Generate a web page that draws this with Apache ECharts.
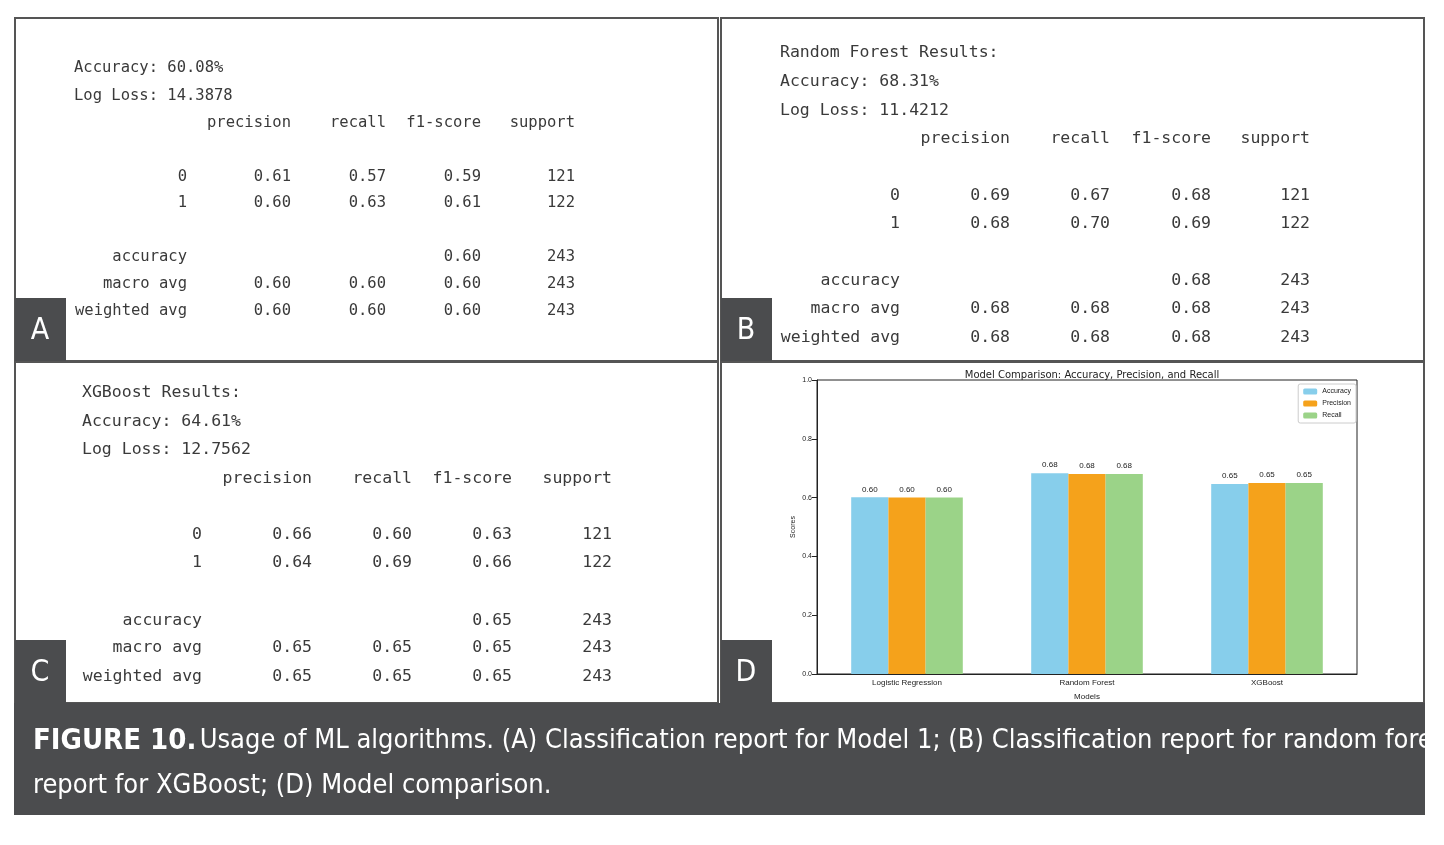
<!DOCTYPE html>
<html><head><meta charset="utf-8">
<script src="https://cdn.jsdelivr.net/npm/echarts@6/dist/echarts.min.js"></script>
<style>html,body{margin:0;padding:0;background:#fff}#main{width:1444px;height:845px}</style>
</head><body><div id="main"></div>
<script>
// model comparison data (panel D)
var models = ["Logistic Regression", "Random Forest", "XGBoost"];
var accuracy = [0.6008, 0.6831, 0.6461];
var precision = [0.60, 0.68, 0.65];
var recall = [0.60, 0.68, 0.65];
var yTicks = [0, 0.2, 0.4, 0.6, 0.8, 1.0];

// classification reports (panels A, B, C)
var headA = ["Accuracy: 60.08%", "Log Loss: 14.3878"];
var headB = ["Random Forest Results:", "Accuracy: 68.31%", "Log Loss: 11.4212"];
var headC = ["XGBoost Results:", "Accuracy: 64.61%", "Log Loss: 12.7562"];
var colNames = ["precision", "recall", "f1-score", "support"];
var rowsA = [["0","0.61","0.57","0.59","121"],["1","0.60","0.63","0.61","122"],["accuracy","","","0.60","243"],["macro avg","0.60","0.60","0.60","243"],["weighted avg","0.60","0.60","0.60","243"]];
var rowsB = [["0","0.69","0.67","0.68","121"],["1","0.68","0.70","0.69","122"],["accuracy","","","0.68","243"],["macro avg","0.68","0.68","0.68","243"],["weighted avg","0.68","0.68","0.68","243"]];
var rowsC = [["0","0.66","0.60","0.63","121"],["1","0.64","0.69","0.66","122"],["accuracy","","","0.65","243"],["macro avg","0.65","0.65","0.65","243"],["weighted avg","0.65","0.65","0.65","243"]];

var mono = "DejaVu Sans Mono";
var txtColor = "#3a3a3a";
var dark = "#4b4c4e";
var g = [];

function txt(x, y, s, size, align){
	g.push({type:"text", x:x, y:y, style:{text:s, font:size+"px '"+mono+"'", fill:txtColor, textAlign:align||"left", textVerticalAlign:"middle"}});
}

// one report: left x of header, header ys, column right edges, row ys
function report(left, heads, headYs, rights, colY, rowYs, rows, size){
	for(var i=0;i<heads.length;i++) txt(left, headYs[i], heads[i], size);
	for(var c=0;c<colNames.length;c++) txt(rights[c+1], colY, colNames[c], size, "right");
	for(var r=0;r<rows.length;r++){
		for(var c=0;c<5;c++){
			if(rows[r][c] !== "") txt(rights[c], rowYs[r], rows[r][c], size, "right");
		}
	}
}

report(74, headA, [68,96], [187,291,386,481,575], 123, [177,203,257,284,311], rowsA, 15.5);
report(780, headB, [53,82,111], [900,1010,1110,1211,1310], 139, [196,224,281,309,338], rowsB, 16.5);
report(82, headC, [393,422,450], [202,312,412,512,612], 479, [535,563,621,648,677], rowsC, 16.5);

// panel frames
var frames = [[15,18,703,343],[721,18,703,343],[15,362,703,341],[721,362,703,341]];
frames.forEach(function(f){
	g.push({type:"rect", shape:{x:f[0],y:f[1],width:f[2],height:f[3]}, style:{fill:null, stroke:"#555", lineWidth:2}});
});

// letter boxes
var letters = [["A",15,298],["B",721,298],["C",15,640],["D",721,640]];
letters.forEach(function(l){
	g.push({type:"rect", shape:{x:l[1],y:l[2],width:51,height:l[0]=="A"||l[0]=="B"?63:63}, style:{fill:dark}});
	g.push({type:"text", x:l[1]+25, y:l[2]+33, style:{text:l[0], font:"30px 'DejaVu Sans Condensed'", fill:"#fff", textAlign:"center", textVerticalAlign:"middle"}});
});

// caption band
g.push({type:"rect", shape:{x:14,y:703,width:1411,height:112}, style:{fill:dark}});
g.push({type:"text", x:33, y:741, style:{rich:{b:{font:"bold 29px 'DejaVu Sans Condensed'", fill:"#fff"}, n:{font:"27px 'DejaVu Sans Condensed'", fill:"#fff"}}, text:"{b|FIGURE 10.} {n|Usage of ML algorithms. (A) Classification report for Model 1; (B) Classification report for random forest; (C) Classification}", textVerticalAlign:"middle"}});
g.push({type:"text", x:33, y:786, style:{text:"report for XGBoost; (D) Model comparison.", font:"27px 'DejaVu Sans Condensed'", fill:"#fff", textVerticalAlign:"middle"}});

var lbl = {show:true, position:"top", fontSize:8, color:"#222", distance:4, formatter:function(p){return p.value.toFixed(2);}};

var option = {
	animation:false,
	backgroundColor:"#fff",
	title:{text:"Model Comparison: Accuracy, Precision, and Recall", left:1087, top:365, textAlign:"center", textStyle:{fontSize:10, fontWeight:"normal", color:"#222", fontFamily:"DejaVu Sans"}},
	legend:{right:88, top:384, orient:"vertical", itemWidth:14, itemHeight:6, itemGap:5, padding:[4,5,4,5], borderColor:"#ccc", borderWidth:1, borderRadius:2, textStyle:{fontSize:7, color:"#222"}, data:["Accuracy","Precision","Recall"]},
	grid:{left:817, right:87, top:380, bottom:171, show:true, borderColor:"#222", borderWidth:1},
	xAxis:{type:"category", data:models, name:"Models", nameLocation:"middle", nameGap:19, nameTextStyle:{fontSize:8, color:"#222"},
		axisLine:{lineStyle:{color:"#222"}}, axisTick:{alignWithLabel:true, lineStyle:{color:"#222"}}, axisLabel:{fontSize:8, color:"#222", margin:5}},
	yAxis:{type:"value", min:0, max:1, interval:0.2, name:"Scores", nameLocation:"middle", nameGap:20, nameTextStyle:{fontSize:7, color:"#222"},
		splitLine:{show:false}, axisLine:{show:true, lineStyle:{color:"#222"}}, axisTick:{show:true, lineStyle:{color:"#222"}},
		axisLabel:{fontSize:7, color:"#222", margin:5, formatter:function(v){return yTicks.indexOf(v)>=0 ? v.toFixed(1) : "";}}},
	series:[
		{name:"Accuracy", type:"bar", data:accuracy, itemStyle:{color:"#87CEEB"}, barGap:"0%", barCategoryGap:"38%", label:lbl},
		{name:"Precision", type:"bar", data:precision, itemStyle:{color:"#F5A21B"}, label:lbl},
		{name:"Recall", type:"bar", data:recall, itemStyle:{color:"#9BD388"}, label:lbl}
	],
	graphic:g
};
echarts.init(document.getElementById("main")).setOption(option);
</script></body></html>
